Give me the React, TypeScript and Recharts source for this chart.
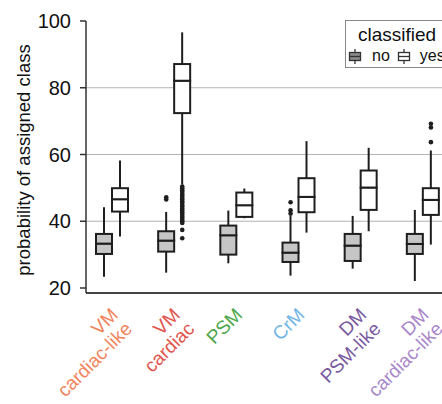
import React from 'react';
import {
  ComposedChart,
  Bar,
  Scatter,
  XAxis,
  YAxis,
  CartesianGrid,
  Label,
} from 'recharts';

// categories (\n = line break in the tick label)
const categories = ['VM\ncardiac-like', 'VM\ncardiac', 'PSM', 'CrM', 'DM\nPSM-like', 'DM\ncardiac-like'];
const labelColors = ['#f0855c', '#e0554c', '#4ea64b', '#72b6e6', '#7a5a9f', '#a987c9'];

// box stats, classified = no
const noMin = [23.4, 24.6, 27.4, 23.7, 25.8, 22.1];
const noQ1 = [30.2, 30.9, 30.0, 27.8, 28.1, 30.2];
const noMed = [33.3, 34.2, 35.8, 30.6, 32.7, 33.2];
const noQ3 = [36.2, 37.0, 38.7, 33.6, 36.2, 36.2];
const noMax = [44.2, 42.8, 43.2, 41.8, 41.6, 43.4];

// box stats, classified = yes
const yesMin = [35.4, 51.0, 40.9, 36.6, 37.0, 33.0];
const yesQ1 = [42.9, 72.4, 41.3, 42.7, 43.4, 41.9];
const yesMed = [46.6, 82.1, 44.8, 47.3, 50.1, 46.4];
const yesQ3 = [49.9, 87.1, 48.6, 52.9, 55.2, 49.9];
const yesMax = [58.2, 96.6, 49.8, 64.0, 62.0, 61.2];

// outliers
const noOutliers = [
  { cat: categories[1], v: 47.2 },
  { cat: categories[1], v: 46.5 },
  { cat: categories[3], v: 45.7 },
  { cat: categories[3], v: 43.3 },
  { cat: categories[3], v: 42.3 },
];
const yesOutlierValuesVMcardiac = [
  50.4, 49.9, 49.3, 48.8, 48.2, 47.7, 47.1, 46.6, 46.0, 45.5, 44.9, 44.4,
  43.8, 43.3, 42.7, 42.2, 41.6, 41.1, 40.5, 40.0, 39.5, 37.4, 34.9,
];
const yesOutlierValuesDMcardiac = [69.2, 68.1, 63.7];
const yesOutliers = [
  ...yesOutlierValuesVMcardiac.map((v) => ({ cat: categories[1], v })),
  ...yesOutlierValuesDMcardiac.map((v) => ({ cat: categories[5], v })),
];

const yTicks = [20, 40, 60, 80, 100];
const gridValues = [40, 60, 80];

const rows = categories.map((cat, i) => ({
  cat,
  noBase: noMin[i],
  noLw: noQ1[i] - noMin[i],
  noLb: noMed[i] - noQ1[i],
  noUb: noQ3[i] - noMed[i],
  noUw: noMax[i] - noQ3[i],
  yesBase: yesMin[i],
  yesLw: yesQ1[i] - yesMin[i],
  yesLb: yesMed[i] - yesQ1[i],
  yesUb: yesQ3[i] - yesMed[i],
  yesUw: yesMax[i] - yesQ3[i],
}));

const FONT = '"Liberation Sans", Arial, sans-serif';
const INK = '#1e1e1e';
const BOX_W = 16;

const Whisker = (p: any) => (
  <line
    x1={p.x + p.width / 2}
    x2={p.x + p.width / 2}
    y1={p.y}
    y2={p.y + p.height}
    stroke={INK}
    strokeWidth={2}
  />
);

const boxPart = (fill: string) => (p: any) => (
  <rect x={p.x} y={p.y} width={p.width} height={p.height} fill={fill} stroke={INK} strokeWidth={2} />
);

const Empty = () => <g />;

const dot = (shift: number) => (p: any) => (
  <circle cx={p.cx + shift} cy={p.cy} r={2.3} fill={INK} />
);

// rotated (45deg), right-aligned, multi-line category label
const renderCatTick = (props: any) => {
  const { x, y, payload } = props;
  const lines = String(payload.value).split('\n');
  const color = labelColors[categories.indexOf(payload.value)];
  return (
    <g transform={`translate(${x + 7} ${y + 23}) rotate(-45)`}>
      {lines.map((l, i) => (
        <text key={i} x={0} y={i * 20} textAnchor="end" fill={color} fontSize={19} fontFamily={FONT}>
          {l}
        </text>
      ))}
    </g>
  );
};

const YTitle = (props: any) => {
  const vb = props.viewBox;
  const cx = vb.x + 30;
  const cy = vb.y + vb.height / 2 + 3;
  return (
    <text
      transform={`translate(${cx},${cy}) rotate(-90)`}
      textAnchor="middle"
      fill="#111"
      fontSize={18.5}
      fontFamily={FONT}
    >
      probability of assigned class
    </text>
  );
};

const LegendIcon = ({ fill }: { fill: string }) => (
  <svg width={14} height={17} style={{ verticalAlign: 'middle' }}>
    <line x1={7} x2={7} y1={1} y2={16} stroke="#333" strokeWidth={1.3} />
    <rect x={1.5} y={4.5} width={11} height={8} fill={fill} stroke="#333" strokeWidth={1.3} />
    <line x1={1.5} x2={12.5} y1={8.5} y2={8.5} stroke="#333" strokeWidth={1.3} />
  </svg>
);

export default function App() {
  return (
    <div
      style={{
        position: 'absolute',
        left: 0,
        top: 0,
        width: 442,
        height: 404,
        overflow: 'hidden',
        background: '#fff',
        fontFamily: FONT,
      }}
    >
      <ComposedChart
        width={460}
        height={404}
        data={rows}
        margin={{ top: 21, right: 6, left: 0, bottom: 0 }}
        barSize={BOX_W}
        barGap={0}
      >
        <CartesianGrid
          vertical={false}
          horizontalValues={gridValues}
          stroke="#b4b4b4"
          strokeWidth={1}
        />
        <XAxis
          dataKey="cat"
          type="category"
          allowDuplicatedCategory={false}
          height={111}
          padding={{ left: -5, right: 0 }}
          tickSize={0}
          tickMargin={0}
          tickLine={false}
          interval={0}
          axisLine={{ stroke: '#444', strokeWidth: 2 }}
          tick={renderCatTick}
        />
        <YAxis
          type="number"
          domain={[18.5, 100]}
          allowDataOverflow
          ticks={yTicks}
          width={86}
          tickSize={6}
          tickMargin={9}
          axisLine={{ stroke: '#333', strokeWidth: 1.5 }}
          tickLine={{ stroke: '#333', strokeWidth: 1.5 }}
          tick={{ fill: '#111', fontSize: 20, fontFamily: FONT }}
        >
          <Label content={<YTitle />} />
        </YAxis>

        <Bar stackId="no" dataKey="noBase" shape={<Empty />} isAnimationActive={false} />
        <Bar stackId="no" dataKey="noLw" shape={Whisker} isAnimationActive={false} />
        <Bar stackId="no" dataKey="noLb" shape={boxPart('#c6c6c6')} isAnimationActive={false} />
        <Bar stackId="no" dataKey="noUb" shape={boxPart('#c6c6c6')} isAnimationActive={false} />
        <Bar stackId="no" dataKey="noUw" shape={Whisker} isAnimationActive={false} />

        <Bar stackId="yes" dataKey="yesBase" shape={<Empty />} isAnimationActive={false} />
        <Bar stackId="yes" dataKey="yesLw" shape={Whisker} isAnimationActive={false} />
        <Bar stackId="yes" dataKey="yesLb" shape={boxPart('#ffffff')} isAnimationActive={false} />
        <Bar stackId="yes" dataKey="yesUb" shape={boxPart('#ffffff')} isAnimationActive={false} />
        <Bar stackId="yes" dataKey="yesUw" shape={Whisker} isAnimationActive={false} />

        <Scatter data={noOutliers} dataKey="v" shape={dot(-BOX_W / 2)} isAnimationActive={false} />
        <Scatter data={yesOutliers} dataKey="v" shape={dot(BOX_W / 2)} isAnimationActive={false} />
      </ComposedChart>

      {/* legend */}
      <div
        style={{
          position: 'absolute',
          left: 345,
          top: 20,
          width: 102,
          height: 46,
          border: '1px solid #888',
          background: '#fff',
          color: '#111',
        }}
      >
        <div style={{ textAlign: 'center', fontSize: 19, lineHeight: '20px', marginTop: 4 }}>classified</div>
        <div style={{ display: 'flex', alignItems: 'center', fontSize: 16, marginTop: 2, whiteSpace: 'nowrap' }}>
          <span style={{ marginLeft: 2, display: 'inline-flex' }}>
            <LegendIcon fill="#8a8a8a" />
          </span>
          <span style={{ marginLeft: 10 }}>no</span>
          <span style={{ marginLeft: 7, display: 'inline-flex' }}>
            <LegendIcon fill="#fff" />
          </span>
          <span style={{ marginLeft: 9 }}>yes</span>
        </div>
      </div>
    </div>
  );
}
